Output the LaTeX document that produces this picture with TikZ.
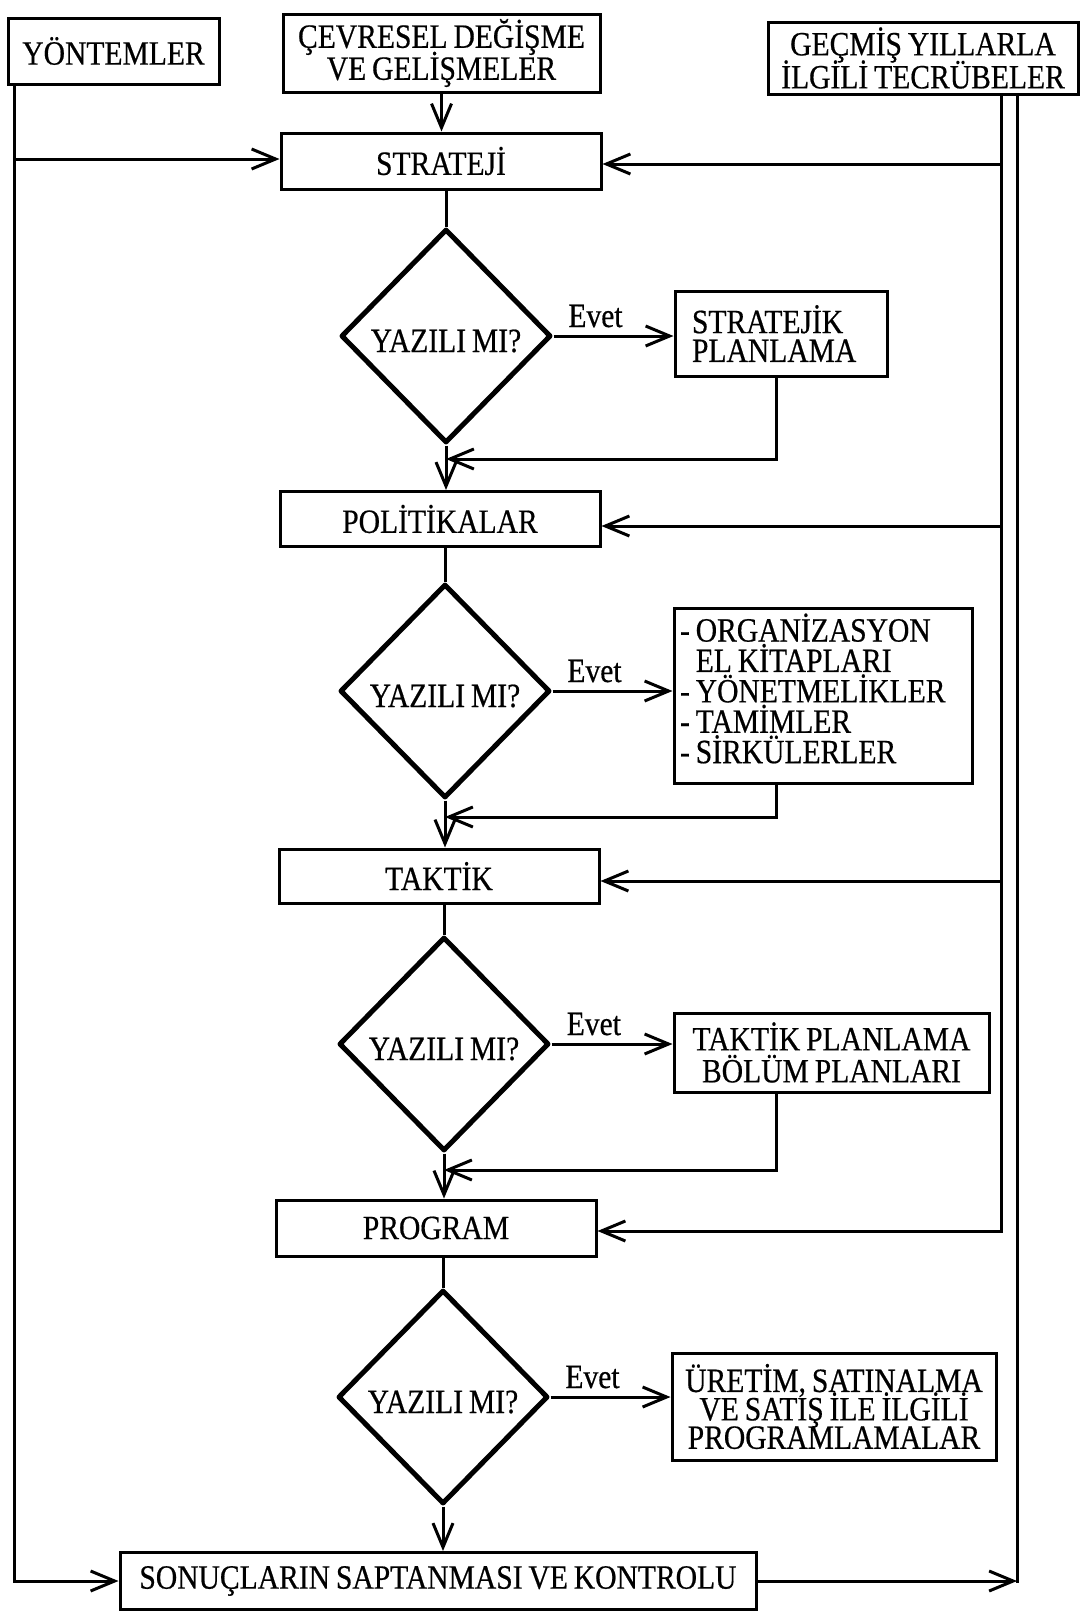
\documentclass[tikz,border=0pt]{standalone}
\usepackage{fontspec}
\setmainfont{Liberation Serif}[FakeStretch=0.87, WordSpace=0.8, FakeBold=0.5]
\usetikzlibrary{shapes.geometric,arrows.meta}
\begin{document}
\lineskiplimit=-100pt
\begin{tikzpicture}[x=0.5pt,y=-0.5pt,
  txt/.style={font=\fontsize{17}{16}\selectfont},
  box/.style={draw, line width=1.5pt, inner sep=0pt, align=center, txt},
  dia/.style={draw, diamond, line width=2.5pt, line join=round, inner sep=0pt,
              minimum width=105pt, minimum height=107pt, txt, text height=16pt, text depth=0pt},
  ln/.style={line width=1.5pt},
  arr/.style={line width=1.5pt, -{Straight Barb[length=12pt,width=10pt]}},
]
\fill[white] (0,0) rectangle (1086,1612);
\path[use as bounding box] (0,0) rectangle (1086,1612);

% top boxes
\node[box, minimum width=105.5pt, minimum height=33pt] (yon) at (113.5,51) {YÖNTEMLER};
\node[box, minimum width=158.5pt, minimum height=39pt] (cev) at (441.5,53) {ÇEVRESEL DEĞİŞME\\VE GELİŞMELER};
\node[box, minimum width=155pt, minimum height=36pt, font=\fontsize{17}{16.5}\selectfont] (gec) at (923,58) {GEÇMİŞ YILLARLA\\İLGİLİ TECRÜBELER};

% column boxes
\node[box, minimum width=160pt, minimum height=28pt] (str) at (441,161) {STRATEJİ};
\node[box, minimum width=160pt, minimum height=27.5pt] (pol) at (440,519) {POLİTİKALAR};
\node[box, minimum width=160pt, minimum height=27pt] (tak) at (439,876) {TAKTİK};
\node[box, minimum width=160pt, minimum height=28pt] (pro) at (436,1228) {PROGRAM};
\node[box, minimum width=318pt, minimum height=28.5pt] (son) at (438,1581) {SONUÇLARIN SAPTANMASI VE KONTROLU};

% diamonds
\node[dia] (d1) at (446,336) {YAZILI MI?};
\node[dia] (d2) at (445,691) {YAZILI MI?};
\node[dia] (d3) at (444,1044) {YAZILI MI?};
\node[dia] (d4) at (443,1397) {YAZILI MI?};

% side boxes
\node[box, align=flush left, text width=89pt, inner xsep=8.5pt, minimum height=42.5pt,
      font=\fontsize{17}{14.4}\selectfont] (sp) at (781,333.5) {STRATEJİK\\PLANLAMA};
\node[box, minimum width=149pt, minimum height=87.5pt] (org) at (823,695.5) {};
\node[align=flush left, text width=143pt, inner sep=0pt, yshift=3.5pt,
      font=\fontsize{17}{15.2}\selectfont] (orgt) at (org.center)
      {- ORGANİZASYON\\\hphantom{- }EL KİTAPLARI\\- YÖNETMELİKLER\\- TAMİMLER\\- SİRKÜLERLER};
\node[box, minimum width=157.5pt, minimum height=39.5pt,
      font=\fontsize{17}{16}\selectfont] (tp) at (831.5,1052.5) {TAKTİK PLANLAMA\\BÖLÜM PLANLARI};
\node[box, minimum width=162pt, minimum height=53.5pt,
      font=\fontsize{17}{14.2}\selectfont] (up) at (834,1406.5) {ÜRETİM, SATINALMA\\VE SATIŞ İLE İLGİLİ\\PROGRAMLAMALAR};

% main column
\draw[arr] (cev.south) -- (cev.south |- str.north);
\draw[ln] (str.south -| d1.north) -- (d1.north);
\draw[arr] (d1.south) -- (d1.south |- pol.north);
\draw[ln] (pol.south -| d2.north) -- (d2.north);
\draw[arr] (d2.south) -- (d2.south |- tak.north);
\draw[ln] (tak.south -| d3.north) -- (d3.north);
\draw[arr] (d3.south) -- (d3.south |- pro.north);
\draw[ln] (pro.south -| d4.north) -- (d4.north);
\draw[arr] (d4.south) -- (d4.south |- son.north);

% Evet arrows
\draw[arr] (d1.east) -- (d1.east -| sp.west) node[pos=0.35, anchor=base, yshift=4.5pt, txt] (e1) {Evet};
\draw[arr] (d2.east) -- (d2.east -| org.west) node[pos=0.35, anchor=base, yshift=4.5pt, txt] (e2) {Evet};
\draw[arr] (d3.east) -- (d3.east -| tp.west) node[pos=0.35, anchor=base, yshift=4.5pt, txt] (e3) {Evet};
\draw[arr] (d4.east) -- (d4.east -| up.west) node[pos=0.35, anchor=base, yshift=4.5pt, txt] (e4) {Evet};

% return lines
\coordinate (r1) at (776,459);
\coordinate (r2) at (776,817);
\coordinate (r3) at (776,1170);
\draw[arr] (r1 |- sp.south) -- (r1) -- (r1 -| d1.south);
\draw[arr] (r2 |- org.south) -- (r2) -- (r2 -| d2.south);
\draw[arr] (r3 |- tp.south) -- (r3) -- (r3 -| d3.south);

% left feed
\coordinate (l1) at (14,159);
\coordinate (l2) at (14,1581);
\draw[arr] (l1 |- yon.south) -- (l2) -- (l2 -| son.west);
\draw[arr] (l1) -- (l1 -| str.west);

% right feeds
\coordinate (a1) at (1001,164);
\coordinate (a2) at (1001,526);
\coordinate (a3) at (1001,881);
\coordinate (ra) at (1001,1231);
\coordinate (rb) at (1017,1581);
\draw[arr] (ra |- gec.south) -- (ra) -- (ra -| pro.east);
\draw[arr] (a1) -- (a1 -| str.east);
\draw[arr] (a2) -- (a2 -| pol.east);
\draw[arr] (a3) -- (a3 -| tak.east);
\draw[ln, line cap=rect] (rb |- gec.south) -- (rb);
\draw[arr] (son.east) -- (son.east -| rb);
\end{tikzpicture}
\end{document}
